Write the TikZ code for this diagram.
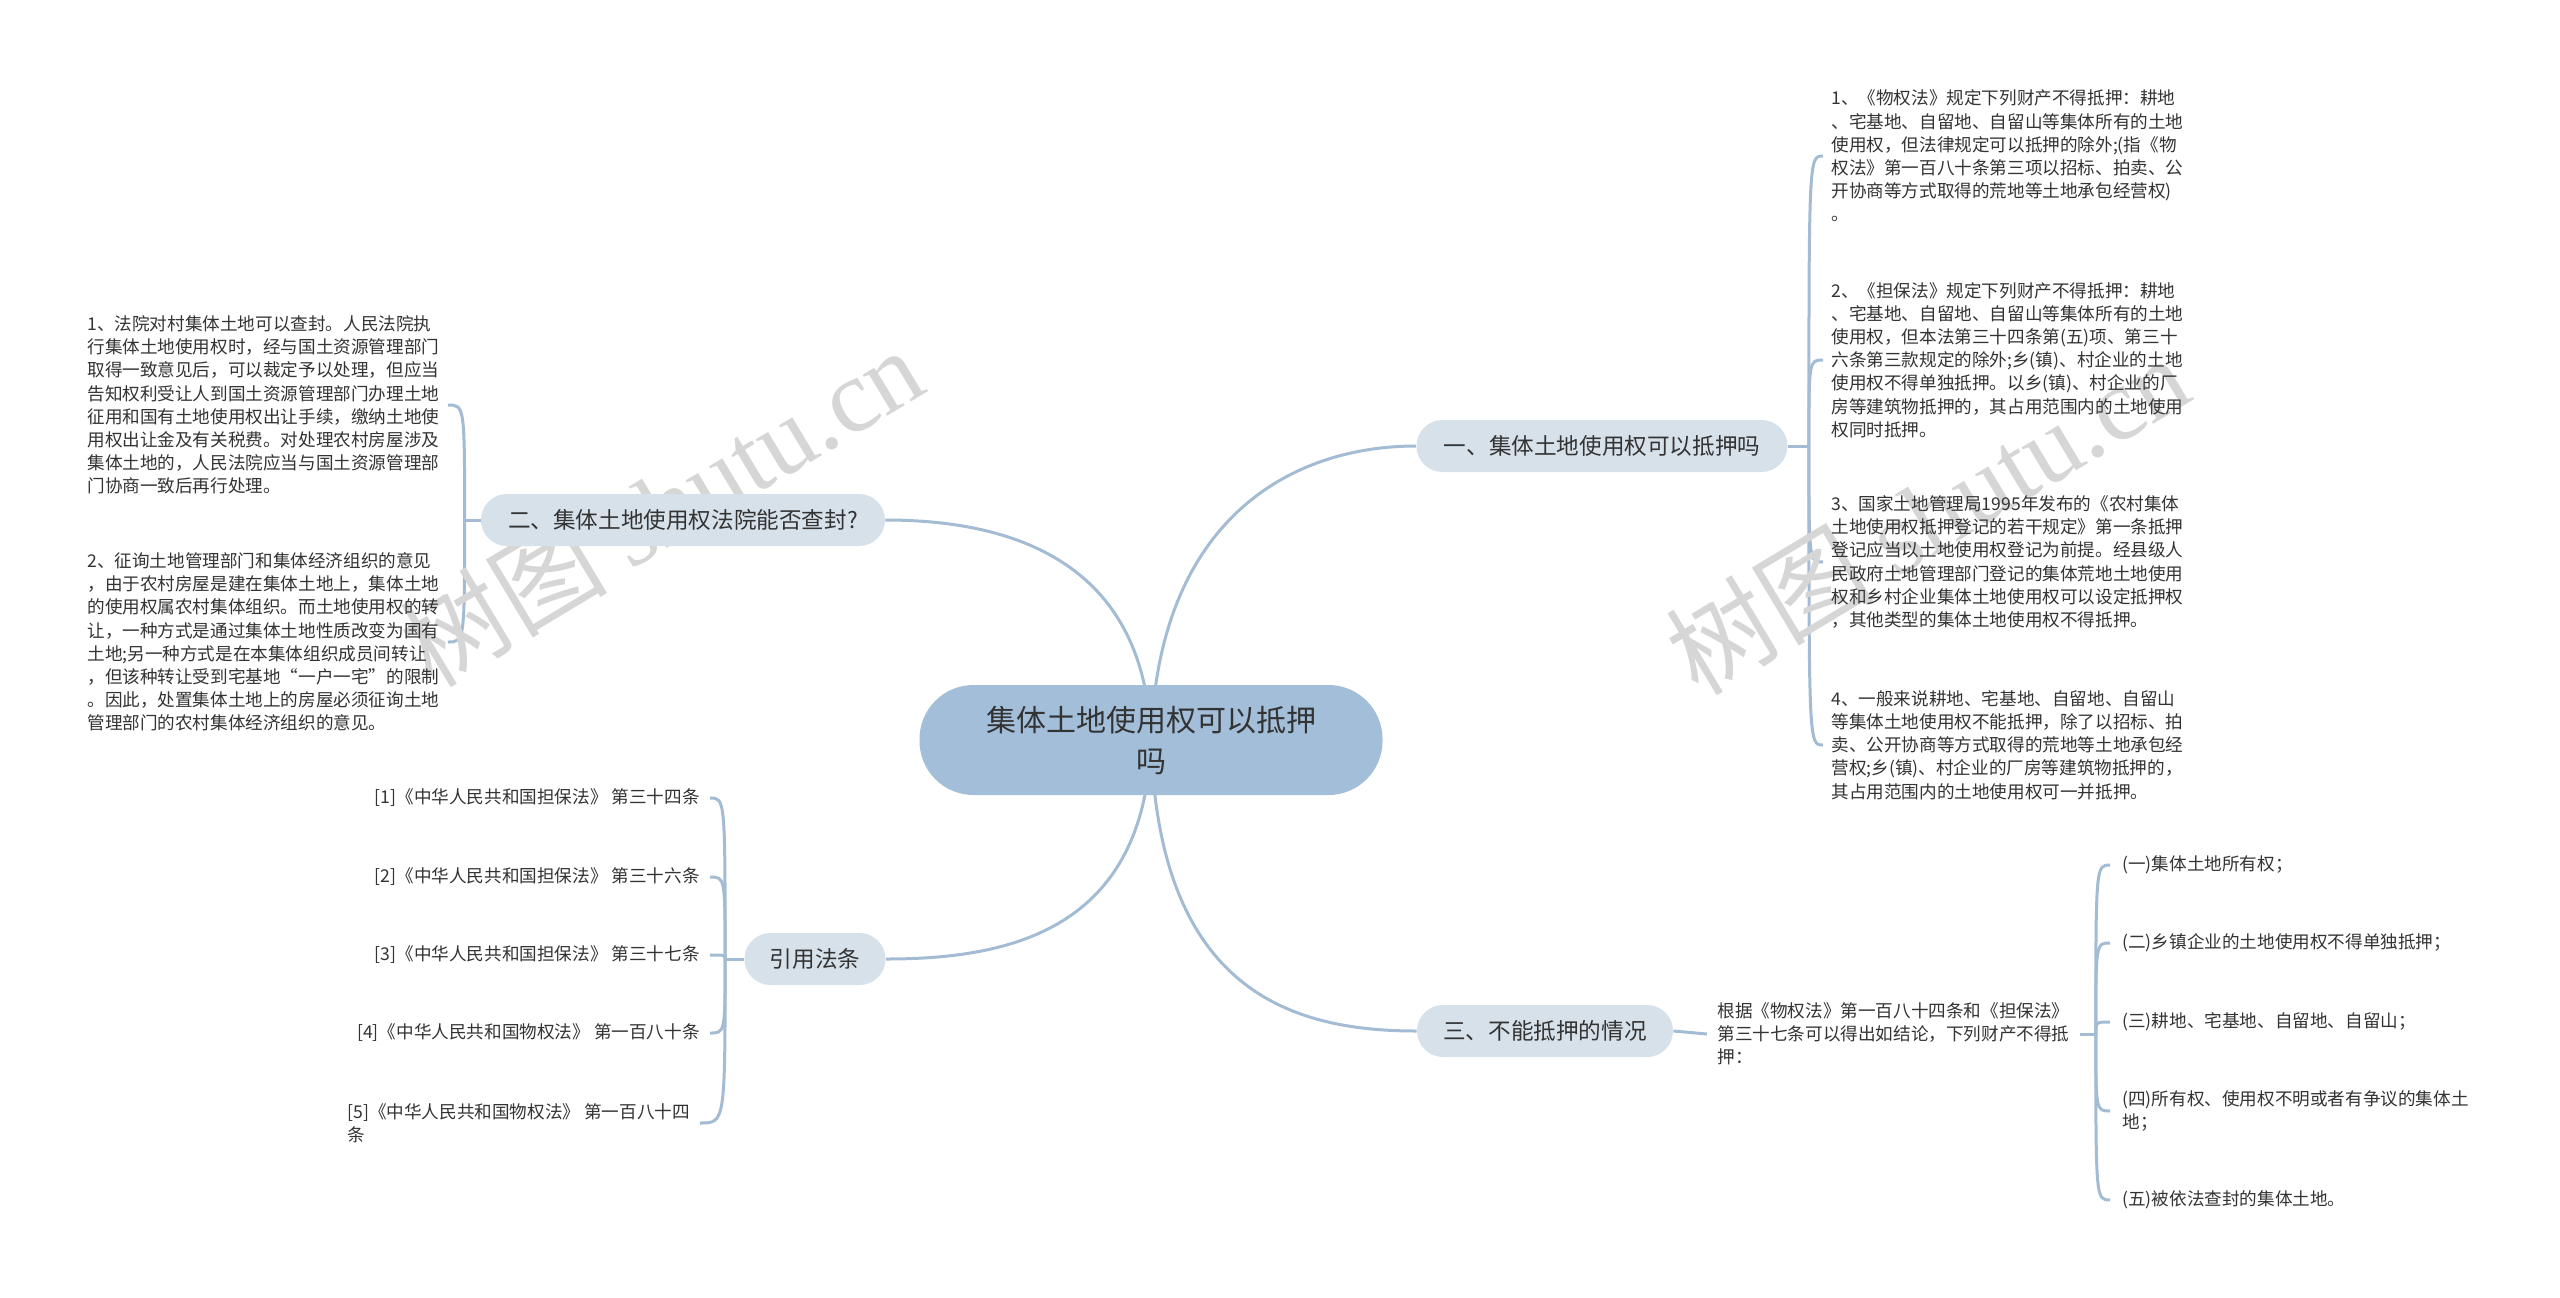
\documentclass[tikz,border=0pt]{standalone}
\usepackage{fontspec}
\setmainfont{Noto Sans CJK SC}
\newfontfamily\wmfont{Liberation Serif}
\usetikzlibrary{backgrounds,calc}
\definecolor{linec}{HTML}{A3BCD3}
\definecolor{rootc}{HTML}{A2BED9}
\definecolor{brc}{HTML}{D6E1EA}
\definecolor{txt}{HTML}{333333}
\definecolor{wmc}{HTML}{D6D6D6}
\begin{document}
\begin{tikzpicture}[x=0.5pt,y=-0.5pt,
 rootbox/.style={fill=rootc, rounded corners=27pt, minimum height=55pt, inner sep=0, align=center, font=\fontsize{15}{20.5}\selectfont, text=txt},
 brbox/.style={fill=brc, rounded corners=13pt, minimum height=26pt, inner sep=0, font=\fontsize{11.3}{14}\selectfont, text=txt},
 leaf/.style={inner sep=0, align=left, font=\fontsize{8.8}{11.6}\selectfont, text=txt},
 rleaf/.style={leaf, align=right},
 conn/.style={draw=linec, line width=1.5pt},
 wmark/.style={rotate=31, text=wmc, font=\fontsize{52}{60}\selectfont},
]
\useasboundingbox (0,0) rectangle (2560,1297);

% watermarks
\node[wmark] (wm1) at (661,506) {树图 {\wmfont shutu.cn}};
\node[wmark] (wm2) at (1927,514) {树图 {\wmfont shutu.cn}};

% root and branches
\node[rootbox, minimum width=231.5pt] (root) at (1151,740) {集体土地使用权可以抵押\\吗};
\node[brbox, minimum width=185.5pt] (b1) at (1602,446) {一、集体土地使用权可以抵押吗};
\node[brbox, minimum width=202pt] (b2) at (683,520) {二、集体土地使用权法院能否查封?};
\node[brbox, minimum width=70.5pt] (b3) at (815,959) {引用法条};
\node[brbox, minimum width=128pt] (b4) at (1545,1031) {三、不能抵押的情况};

% branch 1 leaves
\node[leaf, anchor=west] (a1) at (1831,156) {1、《物权法》规定下列财产不得抵押：耕地\\、宅基地、自留地、自留山等集体所有的土地\\使用权，但法律规定可以抵押的除外;(指《物\\权法》第一百八十条第三项以招标、拍卖、公\\开协商等方式取得的荒地等土地承包经营权)\\。};
\node[leaf, anchor=west] (a2) at (1831,360) {2、《担保法》规定下列财产不得抵押：耕地\\、宅基地、自留地、自留山等集体所有的土地\\使用权，但本法第三十四条第(五)项、第三十\\六条第三款规定的除外;乡(镇)、村企业的土地\\使用权不得单独抵押。以乡(镇)、村企业的厂\\房等建筑物抵押的，其占用范围内的土地使用\\权同时抵押。};
\node[leaf, anchor=west] (a3) at (1831,562) {3、国家土地管理局1995年发布的《农村集体\\土地使用权抵押登记的若干规定》第一条抵押\\登记应当以土地使用权登记为前提。经县级人\\民政府土地管理部门登记的集体荒地土地使用\\权和乡村企业集体土地使用权可以设定抵押权\\，其他类型的集体土地使用权不得抵押。};
\node[leaf, anchor=west] (a4) at (1831,745) {4、一般来说耕地、宅基地、自留地、自留山\\等集体土地使用权不能抵押，除了以招标、拍\\卖、公开协商等方式取得的荒地等土地承包经\\营权;乡(镇)、村企业的厂房等建筑物抵押的，\\其占用范围内的土地使用权可一并抵押。};

% branch 2 leaves
\node[leaf, anchor=west] (d1) at (87,405) {1、法院对村集体土地可以查封。人民法院执\\行集体土地使用权时，经与国土资源管理部门\\取得一致意见后，可以裁定予以处理，但应当\\告知权利受让人到国土资源管理部门办理土地\\征用和国有土地使用权出让手续，缴纳土地使\\用权出让金及有关税费。对处理农村房屋涉及\\集体土地的，人民法院应当与国土资源管理部\\门协商一致后再行处理。};
\node[leaf, anchor=west] (d2) at (87,642) {2、征询土地管理部门和集体经济组织的意见\\，由于农村房屋是建在集体土地上，集体土地\\的使用权属农村集体组织。而土地使用权的转\\让，一种方式是通过集体土地性质改变为国有\\土地;另一种方式是在本集体组织成员间转让\\，但该种转让受到宅基地“一户一宅”的限制\\。因此，处置集体土地上的房屋必须征询土地\\管理部门的农村集体经济组织的意见。};

% references
\node[rleaf, anchor=east] (r1) at (700,798) {[1]《中华人民共和国担保法》 第三十四条};
\node[rleaf, anchor=east] (r2) at (700,877) {[2]《中华人民共和国担保法》 第三十六条};
\node[rleaf, anchor=east] (r3) at (700,955) {[3]《中华人民共和国担保法》 第三十七条};
\node[rleaf, anchor=east] (r4) at (700,1033) {[4]《中华人民共和国物权法》 第一百八十条};
\node[leaf, anchor=west] (r5) at (347,1123) {[5]《中华人民共和国物权法》 第一百八十四\\条};

% branch 3 leaves
\node[leaf, anchor=west] (e0) at (1717,1034) {根据《物权法》第一百八十四条和《担保法》\\第三十七条可以得出如结论，下列财产不得抵\\押：};
\node[leaf, anchor=west] (f1) at (2122,865) {(一)集体土地所有权；};
\node[leaf, anchor=west] (f2) at (2122,943) {(二)乡镇企业的土地使用权不得单独抵押；};
\node[leaf, anchor=west] (f3) at (2122,1022) {(三)耕地、宅基地、自留地、自留山；};
\node[leaf, anchor=west] (f4) at (2122,1111) {(四)所有权、使用权不明或者有争议的集体土\\地；};
\node[leaf, anchor=west] (f5) at (2122,1200) {(五)被依法查封的集体土地。};

\begin{scope}[on background layer]
 \fill[white] (0,0) rectangle (2560,1297);
 % root connectors
 \draw[conn] (root.center) .. controls (1158,520) and (1290,446) .. (b1.west);
 \draw[conn] (root.center) .. controls (1145,560) and (1010,520) .. (b2.east);
 \draw[conn] (root.center) .. controls (1145,930) and (1010,959) .. (b3.east);
 \draw[conn] (root.center) .. controls (1158,990) and (1290,1031) .. (b4.west);
 % branch 1
 \coordinate (j1) at ($(b1.east)+(21,0)$);
 \draw[conn] (b1.east) -- (j1);
 \foreach \c in {a1,a2,a3,a4}
   \draw[conn] (j1) .. controls (j1 |- \c.west) .. ([xshift=-4pt]\c.west);
 % branch 2
 \coordinate (j2) at ($(b2.west)+(-16,0)$);
 \draw[conn] (b2.west) -- (j2);
 \foreach \c in {d1,d2}
   \draw[conn] (j2) .. controls (j2 |- \c.east) .. ([xshift=4pt]\c.east);
 % references
 \coordinate (j3) at ($(b3.west)+(-19,0)$);
 \draw[conn] (b3.west) -- (j3);
 \foreach \c in {r1,r2,r3,r4,r5}
   \draw[conn] (j3) .. controls (j3 |- \c.east) .. ([xshift=5pt]\c.east);
 % branch 3
 \draw[conn] (b4.east) -- ([xshift=-5pt]e0.west);
 \coordinate (j4) at ($(e0.east)+(26,0)$);
 \draw[conn] ([xshift=5pt]e0.east) -- (j4);
 \foreach \c in {f1,f2,f3,f4,f5}
   \draw[conn] (j4) .. controls (j4 |- \c.west) .. ([xshift=-6pt]\c.west);
\end{scope}
\end{tikzpicture}
\end{document}
